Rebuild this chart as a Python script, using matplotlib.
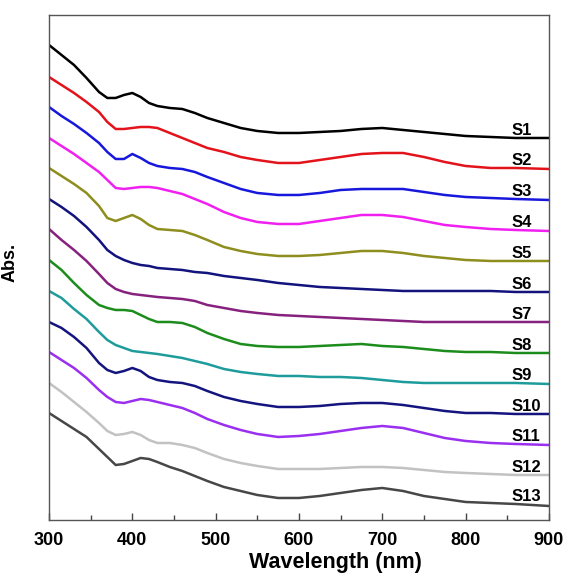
import numpy as np
import matplotlib
matplotlib.use("Agg")
import matplotlib.pyplot as plt

# Stacked absorption spectra S1..S13 (offset, arbitrary units)
wavelength = [300, 315, 330, 345, 360, 370, 380, 390, 400, 410, 420, 430, 445, 460, 475, 490,
              510, 530, 550, 575, 600, 625, 650, 675, 700, 725, 750, 775, 800, 830, 860, 900]

S1 = [475, 465, 455, 442, 428, 422, 422, 425, 427, 423, 417, 414, 412, 411, 407, 402,
      397, 392, 389, 387, 387, 388, 389, 391, 392, 390, 388, 386, 384, 383, 382, 382]
S2 = [443, 435, 427, 418, 408, 398, 391, 391, 392, 393, 393, 392, 387, 382, 377, 372,
      368, 363, 360, 357, 357, 360, 363, 366, 367, 367, 363, 358, 354, 352, 352, 351]
S3 = [413, 404, 396, 387, 377, 368, 361, 361, 366, 362, 357, 354, 352, 351, 348, 343,
      337, 331, 327, 325, 325, 327, 330, 331, 331, 331, 328, 325, 323, 322, 321, 320]
S4 = [382, 374, 366, 357, 348, 340, 332, 331, 332, 333, 333, 332, 329, 326, 321, 316,
      308, 302, 298, 296, 296, 299, 302, 305, 305, 303, 299, 295, 293, 291, 290, 289]
S5 = [352, 344, 336, 327, 314, 302, 299, 302, 305, 301, 295, 291, 290, 289, 285, 280,
      273, 269, 266, 264, 264, 265, 267, 269, 269, 267, 264, 262, 260, 259, 259, 259]
S6 = [321, 313, 304, 293, 280, 270, 264, 260, 257, 255, 254, 252, 251, 250, 248, 247,
      244, 242, 240, 237, 235, 233, 232, 231, 230, 229, 229, 229, 229, 229, 228, 228]
S7 = [291, 280, 270, 259, 246, 237, 231, 228, 226, 225, 224, 223, 222, 221, 219, 215,
      212, 209, 207, 205, 204, 203, 202, 201, 200, 199, 198, 198, 198, 198, 198, 198]
S8 = [260, 250, 237, 225, 215, 212, 210, 210, 209, 205, 201, 198, 198, 197, 193, 187,
      181, 176, 174, 173, 173, 174, 175, 176, 174, 173, 171, 169, 168, 168, 167, 167]
S9 = [229, 222, 211, 201, 188, 180, 175, 172, 169, 168, 167, 166, 164, 162, 159, 156,
      151, 148, 146, 144, 144, 143, 143, 142, 140, 138, 137, 137, 137, 137, 137, 136]
S10 = [198, 192, 183, 172, 157, 150, 147, 149, 152, 149, 143, 140, 138, 137, 134, 129,
       123, 119, 116, 113, 113, 114, 116, 117, 117, 115, 112, 109, 107, 107, 106, 106]
S11 = [168, 160, 152, 142, 130, 123, 118, 117, 119, 121, 120, 118, 115, 112, 107, 101,
       95, 90, 86, 83, 84, 86, 89, 92, 94, 92, 87, 82, 79, 77, 76, 75]
S12 = [137, 128, 118, 108, 97, 89, 85, 86, 88, 85, 80, 77, 77, 75, 72, 67,
       61, 57, 54, 51, 51, 51, 52, 53, 53, 52, 50, 48, 47, 46, 45, 45]
S13 = [107, 99, 91, 83, 71, 63, 55, 56, 59, 62, 61, 58, 53, 49, 44, 39,
       33, 29, 25, 22, 22, 24, 27, 30, 32, 29, 24, 21, 18, 17, 16, 14]

names = ["S1", "S2", "S3", "S4", "S5", "S6", "S7", "S8", "S9", "S10", "S11", "S12", "S13"]
series = [S1, S2, S3, S4, S5, S6, S7, S8, S9, S10, S11, S12, S13]
colors = ["#000000", "#e3131b", "#1818dc", "#f020f0", "#8e8e1e", "#13137e",
          "#86227e", "#1c8c1c", "#1e9c9c", "#14147f", "#9a2ff0", "#c2c2c2", "#474747"]

plt.rcParams['font.family'] = ['Liberation Sans', 'DejaVu Sans']

fig = plt.figure(figsize=(5.68, 5.74), dpi=100)
ax = fig.add_axes([0.0863, 0.0941, 0.88, 0.8798])

for name, vals, c in zip(names, series, colors):
    ax.plot(wavelength, vals, color=c, lw=1.8)
    # label sits just above the right end of each curve
    yl = np.interp(855, wavelength, vals)
    ax.text(855, yl + 3, name, fontsize=12, fontweight='bold', va='baseline', ha='left')

ax.set_xlim(300, 900)
ax.set_ylim(0, 505)
ax.set_xticks(range(300, 901, 100))
ax.set_xticks(range(350, 900, 100), minor=True)
ax.set_yticks([])
ax.tick_params(axis='x', which='major', direction='in', length=5, width=1, colors='#444444',
               labelcolor='black', labelsize=13, pad=9)
ax.tick_params(axis='x', which='minor', direction='in', length=3.5, width=1, colors='#444444')
for lab in ax.get_xticklabels():
    lab.set_fontweight('bold')
for sp in ax.spines.values():
    sp.set_color('#555555')
    sp.set_linewidth(1)

ax.set_xlabel("Wavelength (nm)", fontsize=15.5, fontweight='bold')
ax.xaxis.set_label_coords(0.574, -0.063)
ax.set_ylabel("Abs.", fontsize=13, fontweight='bold')
ax.yaxis.set_label_coords(-0.06, 0.51)

fig.savefig("out.png", dpi=100)
